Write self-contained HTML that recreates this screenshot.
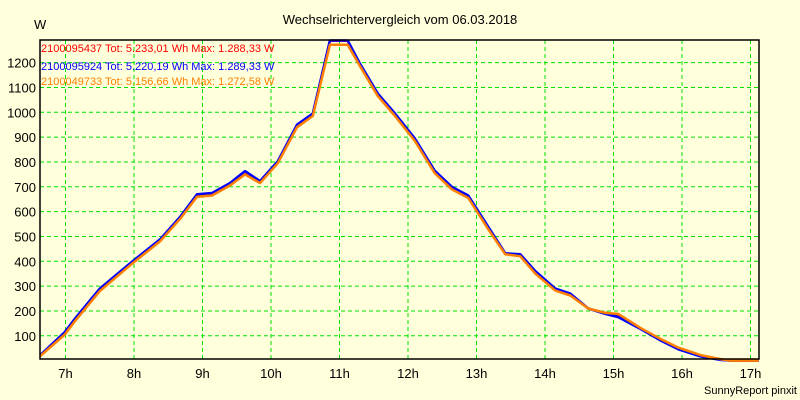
<!DOCTYPE html>
<html><head><meta charset="utf-8"><style>
body{margin:0;background:#ffffdc;}
svg{display:block;font-family:"Liberation Sans",Arial,sans-serif;}
</style></head><body>
<svg id="chart" width="800" height="400">
<rect x="0" y="0" width="800" height="400" fill="#ffffdc"/>
<text x="400" y="24" font-size="13" text-anchor="middle">Wechselrichtervergleich vom 06.03.2018</text>
<text x="34" y="29" font-size="13">W</text>
<text x="797" y="394" font-size="11" text-anchor="end">SunnyReport pinxit</text>
<g id="grid"></g><g id="series"></g>
<rect x="40" y="40" width="719" height="319" fill="none" stroke="#000" stroke-width="1.5"/>
<g id="axes"></g>
<g font-size="11">
<text x="41" y="52" fill="#ff0000">2100095437 Tot: 5.233,01 Wh Max: 1.288,33 W</text>
<text x="41" y="70" fill="#0000ff">2100095924 Tot: 5.220,19 Wh Max: 1.289,33 W</text>
<text x="41" y="85" fill="#ff8000">2100049733 Tot: 5.156,66 Wh Max: 1.272,58 W</text>
</g>
</svg>
<script>
const hours=[6.63,6.99,7.14,7.50,7.97,8.38,8.67,8.92,9.14,9.40,9.62,9.84,10.10,10.38,10.61,10.86,11.12,11.30,11.56,11.81,12.10,12.39,12.64,12.88,13.17,13.42,13.64,13.86,14.15,14.37,14.63,14.88,15.07,15.39,15.68,15.95,16.27,16.56,16.71,17.12];
const redVals=[20,110,165,285,395,485,575,663,670,710,757,720,800,945,990,1288,1288,1190,1070,990,890,760,695,660,535,430,425,355,285,268,210,192,185,130,85,50,20,5,0,0];
const blueVals=[22,115,170,290,398,488,578,670,675,715,763,723,803,950,995,1289,1289,1195,1075,995,895,765,700,665,540,432,428,360,290,270,210,188,175,128,82,45,17,3,0,0];
const orangeVals=[18,105,160,280,390,480,570,660,665,705,750,715,795,940,985,1272,1272,1185,1065,985,885,755,690,655,530,428,420,350,282,262,210,192,188,132,88,52,22,6,0,0];
const yTicks=[100,200,300,400,500,600,700,800,900,1000,1100,1200];
const xTicks=[7,8,9,10,11,12,13,14,15,16,17];
const L=40,R=759,T=40,B=359;
function xs(h){return 65.5+(h-7)*68.5;}
function ys(v){return 360.6-v*0.2483;}
const NS="http://www.w3.org/2000/svg";
const grid=document.getElementById('grid'),axes=document.getElementById('axes'),ser=document.getElementById('series');
function mk(tag,attrs,parent){const e=document.createElementNS(NS,tag);for(const k in attrs)e.setAttribute(k,attrs[k]);parent.appendChild(e);return e;}
yTicks.forEach(v=>{
 const y=ys(v);
 const g=mk('line',{x1:L,x2:R,y1:y,y2:y,stroke:'#00e000','stroke-dasharray':'4,3'},grid);
 
 
 const t=mk('text',{x:36,y:y+5,'font-size':'13','text-anchor':'end'},axes);
 t.textContent=v;
 
 
});
xTicks.forEach(h=>{
 const x=xs(h);
 const g=mk('line',{x1:x,x2:x,y1:T,y2:B,stroke:'#00e000','stroke-dasharray':'4,3'},grid);
 
 
 const t=mk('text',{x:x,y:378,'font-size':'13','text-anchor':'middle'},axes);
 t.textContent=h+'h';
 
 
});
function line(vals,color,name){
 const p=mk('polyline',{points:hours.map((h,i)=>xs(h).toFixed(1)+','+ys(vals[i]).toFixed(1)).join(' '),fill:'none',stroke:color,'stroke-width':'2.5','stroke-linejoin':'round'},ser);
 
 
}
line(redVals,'#ff0000','series-2100095437');
line(blueVals,'#0000ff','series-2100095924');
line(orangeVals,'#ff8000','series-2100049733');
</script>
</body></html>
